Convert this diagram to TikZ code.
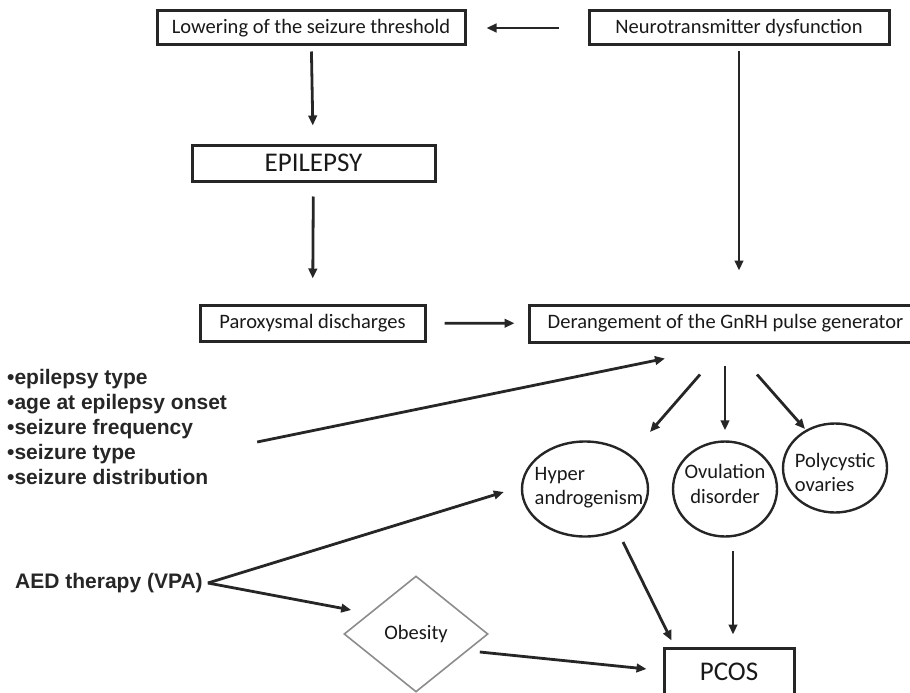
\documentclass[tikz,border=0pt]{standalone}
\usepackage{fontspec}
\setmainfont{Carlito}
\newfontfamily\arialfont{Liberation Sans}
\usepackage{tikz}
\usetikzlibrary{shapes.geometric, arrows.meta, positioning, calc}

\begin{document}
\begin{tikzpicture}[
  x=1pt, y=-1pt,
  box/.style={rectangle, draw=black!85, line width=3pt, inner sep=0pt, align=center, text=black!90, font=\fontsize{20.5}{25}\selectfont},
  bigbox/.style={box, font=\fontsize{27}{32}\selectfont},
  oval/.style={ellipse, draw=black!85, line width=2.4pt, inner sep=0pt},
  ovaltext/.style={align=left, inner sep=0pt, text=black!90, font=\fontsize{20.5}{24.5}\selectfont},
  decision/.style={diamond, draw=black!45, line width=1.6pt, inner sep=0pt, text=black!90, font=\fontsize{20.5}{25}\selectfont},
  factor/.style={align=left, inner sep=2pt, text=black!85, font=\arialfont\bfseries\fontsize{21}{25}\selectfont},
  arr/.style={-{Triangle[length=10pt,width=8.5pt]}, line width=2.8pt, draw=black!85},
]
\useasboundingbox (0,0) rectangle (910,693);

% Row 1: causes
\node[box, minimum width=308pt, minimum height=34pt] (lower) at (311,28) {Lowering of the seizure threshold};
\node[box, minimum width=300pt, minimum height=34pt] (neuro) at (739,28) {Neurotransmitter dysfunction};

% Row 2: Epilepsy
\node[bigbox, minimum width=243pt, minimum height=36pt] (epi) at (313.5,163) {EPILEPSY};

% Row 3: discharges + GnRH
\node[box, minimum width=225pt, minimum height=36pt] (parox) at (312.5,323) {Paroxysmal discharges};
\node[box, minimum width=393pt, minimum height=37pt] (gnrh) at (725.5,323.5) {Derangement of the GnRH pulse generator};

% Row 4: factors + features
\node[factor, anchor=west] (factors) at (5,427) {•epilepsy type\\•age at epilepsy onset\\•seizure frequency\\•seizure type\\•seizure distribution};
\node[oval, minimum width=126pt, minimum height=95pt, label={[ovaltext, xshift=4pt, yshift=1.5pt]center:Hyper\\androgenism}] (hyper) at (585,489) {};
\node[oval, minimum width=104pt, minimum height=95pt, label={[ovaltext, align=center, yshift=5pt]center:Ovulation\\disorder}] (ovul) at (725,489) {};
\node[oval, minimum width=104pt, minimum height=89pt, label={[ovaltext, yshift=-4.5pt]center:Polycystic\\ovaries}] (poly) at (835,468) {};

% Row 5: therapy, obesity, PCOS
\node[factor, anchor=west] (aed) at (13,583) {AED therapy (VPA)};
\node[decision, minimum width=144pt, minimum height=116pt] (obes) at (416,634) {Obesity};
\node[bigbox, minimum width=130pt, minimum height=48pt] (pcos) at (729,672) {PCOS};

% Arrows
\draw[arr, shorten <=29pt, shorten >=20pt] (neuro) -- (lower);
\draw[arr, shorten <=5pt, shorten >=18pt] (lower) -- (epi);
\draw[arr, shorten <=14pt, shorten >=25pt] (epi) -- (parox);
\draw[arr, shorten <=5pt, shorten >=33pt] (neuro.south) -- (neuro.south |- gnrh.north);
\draw[arr, shorten <=18pt, shorten >=13pt] (parox) -- (gnrh);
\draw[arr] ([xshift=28pt,yshift=-15pt]factors.east) -- ([xshift=-60.5pt,yshift=-15pt]gnrh.south);
\draw[arr] ([xshift=-25.5pt,yshift=-31pt]gnrh.south) -- ([xshift=65pt,yshift=57pt]hyper.center);
\draw[arr] ([xshift=-0.5pt,yshift=-22pt]gnrh.south) -- ([yshift=10pt]ovul.north);
\draw[arr] ([xshift=31.5pt,yshift=-31pt]gnrh.south) -- ([xshift=-30pt,yshift=39pt]poly.center);
\draw[arr] ([xshift=38pt,yshift=-53pt]hyper.center) -- ([xshift=9pt,yshift=6pt]pcos.north west);
\draw[arr] ([xshift=8pt,yshift=-13pt]ovul.south) -- ([xshift=4pt,yshift=12pt]pcos.north);
\draw[arr] ([xshift=-9pt,yshift=-18pt]obes.east) -- ([xshift=-16pt,yshift=3pt]pcos.west);
\draw[arr] ([xshift=3pt]aed.east) -- ([xshift=-17pt,yshift=-3pt]hyper.west);
\draw[arr] ([xshift=3pt]aed.east) -- ([xshift=8pt,yshift=24pt]obes.west);

\end{tikzpicture}
\end{document}
